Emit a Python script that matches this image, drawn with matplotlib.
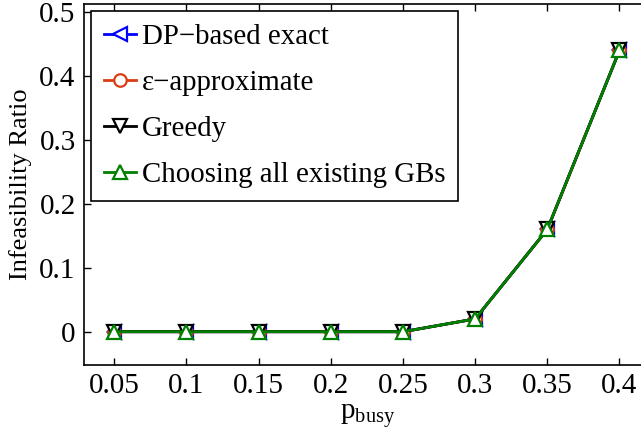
import numpy as np
import matplotlib.pyplot as plt

p_busy = [0.05, 0.1, 0.15, 0.2, 0.25, 0.3, 0.35, 0.4]
dp_exact = [0, 0, 0, 0, 0, 0.02, 0.16, 0.44]
eps_approx = [0, 0, 0, 0, 0, 0.02, 0.16, 0.44]
greedy = [0, 0, 0, 0, 0, 0.02, 0.16, 0.44]
all_gbs = [0, 0, 0, 0, 0, 0.02, 0.16, 0.44]

plt.rcParams['font.family'] = ['Liberation Serif', 'DejaVu Serif']
plt.rcParams['mathtext.fontset'] = 'custom'
plt.rcParams['mathtext.rm'] = 'Liberation Serif'
plt.rcParams['mathtext.it'] = 'Liberation Serif'

fig = plt.figure(figsize=(6.41, 4.44), dpi=100)
ax = fig.add_axes([0.131, 0.178, 0.885, 0.813])

ax.plot(p_busy, dp_exact, color='blue', marker='<', ms=10, mfc='white', mew=1.6, lw=2,
        label='DP\u2212based exact')
ax.plot(p_busy, eps_approx, color='#d93d12', marker='o', ms=9, mfc='white', mew=1.6, lw=2,
        label='\u03b5\u2212approximate')
ax.plot(p_busy, greedy, color='black', marker='v', ms=10, mfc='white', mew=1.6, lw=2,
        label='Greedy')
ax.plot(p_busy, all_gbs, color='green', marker='^', ms=10, mfc='white', mew=1.6, lw=2,
        label='Choosing all existing GBs')

ax.set_xlim(0.029, 0.422)
ax.set_ylim(-0.052, 0.5125)
ax.set_xticks(p_busy)
ax.set_xticklabels(['0.05', '0.1', '0.15', '0.2', '0.25', '0.3', '0.35', '0.4'])
ax.set_yticks([0, 0.1, 0.2, 0.3, 0.4, 0.5])
ax.set_yticklabels(['0', '0.1', '0.2', '0.3', '0.4', '0.5'])
ax.tick_params(direction='in', length=5, width=1, labelsize=21, top=True, right=True, pad=6)
for s in ax.spines.values():
    s.set_linewidth(1.2)

ax.set_xlabel('p$_{\\mathrm{busy}}$', fontsize=21, labelpad=2)
ax.set_ylabel('Infeasibility Ratio', fontsize=19, labelpad=5)

leg = ax.legend(loc='upper left', fontsize=20.8, handlelength=1.1, handletextpad=0.2,
                borderpad=0.45, labelspacing=0.68, fancybox=False, framealpha=1,
                borderaxespad=0.25)
leg.get_frame().set_edgecolor('black')
leg.get_frame().set_linewidth(1.2)

fig.savefig('out.png', dpi=100)
